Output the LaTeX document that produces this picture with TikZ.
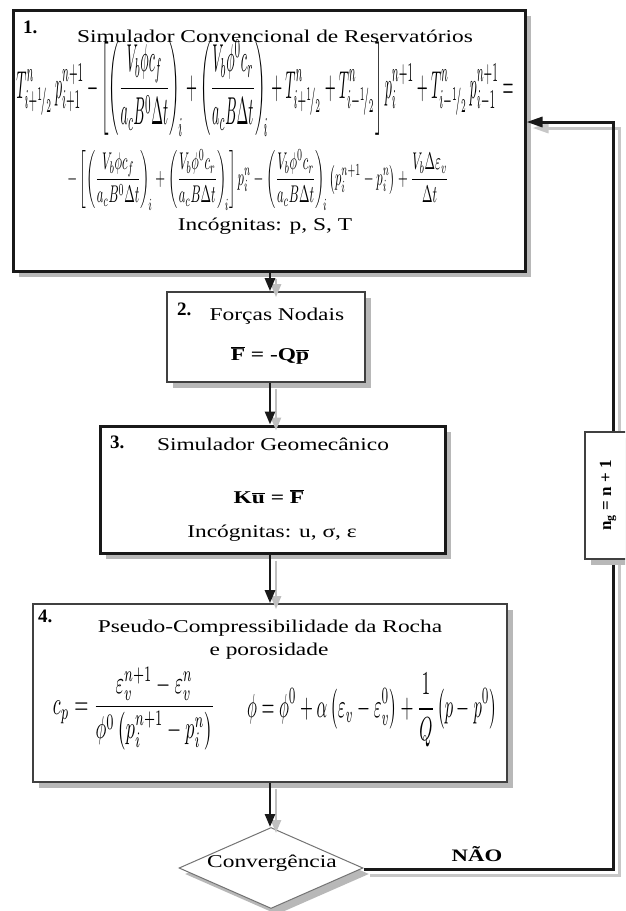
\documentclass[tikz,border=0pt]{standalone}
\usepackage{fontspec}
\setmainfont{Liberation Serif}[FakeStretch=1.3]
\newfontfamily\plainserif{Liberation Serif}
\usepackage{graphicx}
\usetikzlibrary{arrows.meta,shapes.geometric,shadows}
\tikzset{
  shad/.style={drop shadow={shadow xshift=6pt,shadow yshift=-6pt,opacity=1,fill=black!28}},
  heavybox/.style={draw=black!90,line width=3pt,fill=white,shad,inner sep=0pt},
  lightbox/.style={draw=black!75,line width=1.6pt,fill=white,shad,inner sep=0pt},
  txt/.style={inner sep=0pt,anchor=base,font=\fontsize{18}{21}\selectfont},
  numtxt/.style={inner sep=0pt,anchor=base west,font=\plainserif\bfseries\fontsize{19}{21}\selectfont},
  eqn/.style={inner sep=0pt,anchor=center},
  flow/.style={line width=2.6pt,draw=black!90,-{Triangle[length=13pt,width=10pt]}},
  flowshad/.style={line width=2.6pt,draw=black!25,-{Triangle[length=13pt,width=10pt]},transform canvas={xshift=6pt,yshift=-6pt}},
  loopline/.style={line width=3pt,draw=black!90,line join=miter,-{Triangle[length=16pt,width=10pt]}},
  loopshad/.style={line width=3pt,draw=black!22,line join=miter,-{Triangle[length=16pt,width=10pt]},transform canvas={xshift=6pt,yshift=-6pt}},
}
\begin{document}
\begin{tikzpicture}[x=1pt,y=-1pt]
\useasboundingbox (0,0) rectangle (625,911);
\clip (0,0) rectangle (625,911);

% axis for vertical arrows
\coordinate (ax) at (270,0);
\coordinate (lb) at (613,869);
\coordinate (lt) at (613,122);

% ---------- boxes ----------
\node[heavybox,minimum width=512pt,minimum height=261pt] (b1) at (269,140.5) {};
\node[lightbox,minimum width=198pt,minimum height=90pt] (b2) at (266,337) {};
\node[heavybox,minimum width=345pt,minimum height=127pt] (b3) at (272.5,489.5) {};
\node[lightbox,minimum width=474pt,minimum height=178pt] (b4) at (270,693) {};
\node[diamond,draw=black!55,line width=1pt,fill=white,shad,minimum width=184pt,minimum height=81pt,inner sep=0pt] (dia) at (271,868) {};

% ---------- vertical arrows ----------
\draw[flowshad] (b1.south -| ax) -- (b2.north -| ax);
\draw[flow] (b1.south -| ax) -- (b2.north -| ax);
\draw[flowshad] (b2.south -| ax) -- (b3.north -| ax);
\draw[flow] (b2.south -| ax) -- (b3.north -| ax);
\draw[flowshad] (b3.south -| ax) -- (b4.north -| ax);
\draw[flow] (b3.south -| ax) -- (b4.north -| ax);
\draw[flowshad] (b4.south -| ax) -- (dia.north -| ax);
\draw[flow] (b4.south -| ax) -- (dia.north -| ax);

% ---------- loop back ----------
\draw[loopshad] (dia.east |- lb) -- (lb) -- (lt) -- (b1.east |- lt);
\draw[loopline] (dia.east |- lb) -- (lb) -- (lt) -- (b1.east |- lt);
\node[lightbox,line width=1.4pt,minimum width=56pt,minimum height=127pt] (ng) at (613,495.5) {};
\node[rotate=90,anchor=center,inner sep=0pt,font=\plainserif\bfseries\fontsize{17}{20}\selectfont] (ngt) at ([xshift=-5pt]ng.center) {n\textsubscript{g} = n + 1};

% ---------- box 1 ----------
\node[numtxt] (n1) at (23,33) {1.};
\node[txt] (t1) at (275,42) {Simulador Convencional de Reservatórios};
\node[eqn] (e1) at (265,88.5) {\resizebox{497pt}{58pt}{$\displaystyle
 T^{n}_{i+{}^1\!/_2}\,p^{n+1}_{i+1}-\left[\left(\frac{V_b\phi c_f}{a_c B^0\Delta t}\right)_{\!i}+\left(\frac{V_b\phi^0 c_r}{a_c B\Delta t}\right)_{\!i}+T^{n}_{i+{}^1\!/_2}+T^{n}_{i-{}^1\!/_2}\right]p^{n+1}_i+T^{n}_{i-{}^1\!/_2}\,p^{n+1}_{i-1}=$}};
\node[eqn] (e2) at (258,180) {\resizebox{381pt}{36pt}{$\displaystyle
 -\left[\left(\frac{V_b\phi c_f}{a_c B^0\Delta t}\right)_{\!i}+\left(\frac{V_b\phi^0 c_r}{a_c B\Delta t}\right)_{\!i}\right]p^{n}_i-\left(\frac{V_b\phi^0 c_r}{a_c B\Delta t}\right)_{\!i}\left(p^{n+1}_i-p^{n}_i\right)+\frac{V_b\Delta\varepsilon_v}{\Delta t}$}};
\node[txt] (i1) at (265,230) {Incógnitas: p, S, T};

% ---------- box 2 ----------
\node[numtxt] (n2) at (177,315) {2.};
\node[txt] (t2) at (277,320) {Forças Nodais};
\node[txt] (f2) at (270,360) {\textbf{$\overline{\hbox{\textbf{F}}}$ = -Q$\overline{\hbox{\textbf{p}}}$}};

% ---------- box 3 ----------
\node[numtxt] (n3) at (110,448) {3.};
\node[txt] (t3) at (273,450) {Simulador Geomecânico};
\node[txt] (f3) at (269,503) {\textbf{K$\overline{\hbox{\textbf{u}}}$ = $\overline{\hbox{\textbf{F}}}$}};
\node[txt] (i3) at (272,537) {Incógnitas: u, σ, ε};

% ---------- box 4 ----------
\node[numtxt] (n4) at (38,622) {4.};
\node[txt] (t4) at (270,632) {Pseudo-Compressibilidade da Rocha};
\node[txt] (t4b) at (269,655) {e porosidade};
\node[eqn] (e4a) at (134,708.5) {\resizebox{162pt}{47pt}{$\displaystyle
 c_p=\frac{\varepsilon_v^{n+1}-\varepsilon_v^{n}}{\phi^0\left(p_i^{n+1}-p_i^{n}\right)}$}};
\node[eqn] (e4b) at (372,710) {\resizebox{250pt}{44pt}{$\displaystyle
 \phi=\phi^0+\alpha\left(\varepsilon_v-\varepsilon_v^0\right)+\frac{1}{Q}\left(p-p^0\right)$}};

% ---------- decision ----------
\node[txt] (dt) at (272,867) {Convergência};
\node[txt,font=\bfseries\fontsize{17.5}{20}\selectfont] (nao) at (477,861) {NÃO};
\end{tikzpicture}
\end{document}
